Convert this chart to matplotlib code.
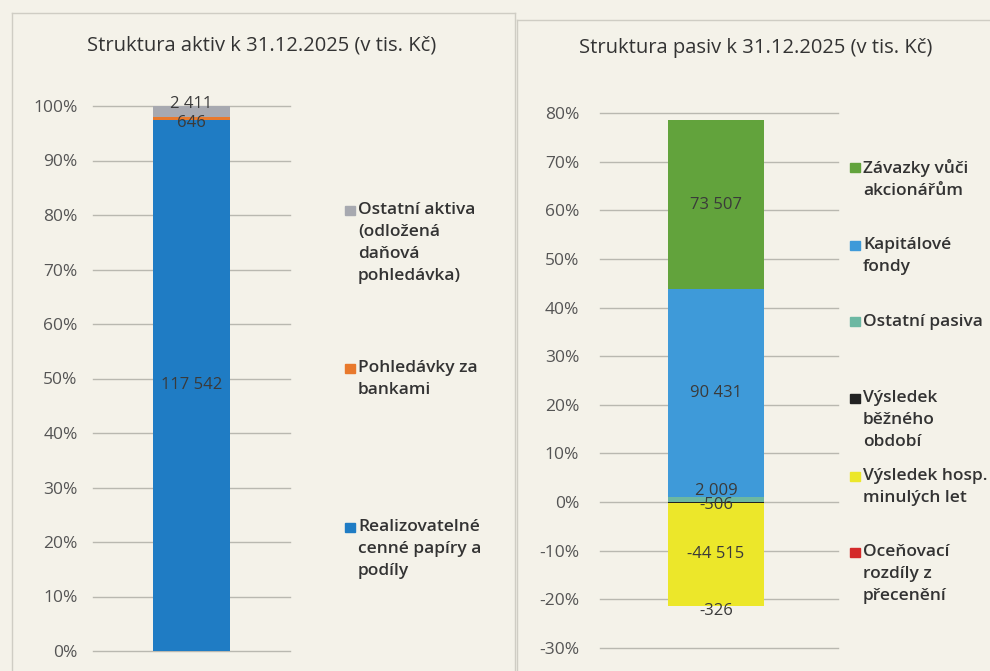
import matplotlib
matplotlib.use("Agg")
import matplotlib.pyplot as plt
import matplotlib.ticker as mticker
from matplotlib.patches import Rectangle
from matplotlib.lines import Line2D
import numpy as np

plt.rcParams['font.family'] = ['Open Sans', 'DejaVu Sans']

# ---------------- data ----------------
aktiva_title = "Struktura aktiv k 31.12.2025 (v tis. Kč)"
aktiva_labels = ["Realizovatelné\ncenné papíry a\npodíly",
                 "Pohledávky za\nbankami",
                 "Ostatní aktiva\n(odložená\ndaňová\npohledávka)"]
aktiva_values = [117542, 646, 2411]
aktiva_colors = ["#1f7cc4", "#e8792c", "#a7a9b0"]

pasiva_title = "Struktura pasiv k 31.12.2025 (v tis. Kč)"
pasiva_labels = ["Oceňovací\nrozdíly z\npřecenění",
                 "Výsledek hosp.\nminulých let",
                 "Výsledek\nběžného\nobdobí",
                 "Ostatní pasiva",
                 "Kapitálové\nfondy",
                 "Závazky vůči\nakcionářům"]
pasiva_values = [-326, -44515, -506, 2009, 90431, 73507]
pasiva_colors = ["#d42a2a", "#ece72a", "#222222", "#6cb8a2", "#3e9ad9", "#62a33c"]

aktiva_ticks = [0, 0.1, 0.2, 0.3, 0.4, 0.5, 0.6, 0.7, 0.8, 0.9, 1.0]
pasiva_ticks = [-0.3, -0.2, -0.1, 0, 0.1, 0.2, 0.3, 0.4, 0.5, 0.6, 0.7, 0.8]

# ---------------- layout ----------------
W, H = 990, 671
BG = "#f4f2e9"
fig = plt.figure(figsize=(W / 100, H / 100), dpi=100, facecolor=BG)


def fx(px):
    return px / W


def fy(py):
    return 1 - py / H


def fmt(v):
    s = f"{abs(v):,}".replace(",", " ")
    return ("-" if v < 0 else "") + s


# panel borders
border_c = "#cfcdc4"
fig.add_artist(Line2D([fx(12), fx(515)], [fy(13), fy(13)], color=border_c, lw=1))
fig.add_artist(Line2D([fx(12), fx(12)], [fy(13), fy(671)], color=border_c, lw=1))
fig.add_artist(Line2D([fx(515), fx(515)], [fy(13), fy(671)], color=border_c, lw=1))
fig.add_artist(Line2D([fx(517), fx(990)], [fy(20), fy(20)], color=border_c, lw=1))
fig.add_artist(Line2D([fx(517), fx(517)], [fy(20), fy(671)], color=border_c, lw=1))

grid_c = "#b9b8b0"
tick_c = "#555555"
text_c = "#3a3a3a"
LABEL_FS = 12
TICK_FS = 12.5
LEG_FS = 12.5


def style_axes(ax, ticks, pad):
    ax.set_facecolor("none")
    for s in ax.spines.values():
        s.set_visible(False)
    ax.set_yticks(ticks)
    ax.yaxis.set_major_formatter(mticker.FuncFormatter(lambda v, p: f"{round(v * 100):d}%"))
    ax.tick_params(axis='y', length=0, pad=pad, labelsize=TICK_FS, labelcolor=tick_c)
    ax.set_xticks([])
    ax.grid(axis='y', color=grid_c, lw=1)
    for gl in ax.yaxis.get_gridlines():
        gl.set_clip_on(False)
    ax.set_axisbelow(True)


def legend_item(x, y, lab, c):
    fig.add_artist(Rectangle((fx(x), fy(y + 4.5)), fx(10), 9 / H, color=c,
                             transform=fig.transFigure))
    fig.text(fx(x + 13), fy(y - 8), lab, ha='left', va='top', fontsize=LEG_FS,
             color="#333333", fontweight='semibold', linespacing=1.5)


# ---------------- Aktiva ----------------
axL = fig.add_axes([fx(93), fy(651), fx(290 - 93), (651 - 106) / H])
axL.set_xlim(-1.27, 1.27)
axL.set_ylim(0, 1.0)
style_axes(axL, aktiva_ticks, 11)

totA = sum(aktiva_values)
bottom = 0.0
label_offsets_a = {646: -0.009, 2411: 0.014}
for v, c in zip(aktiva_values, aktiva_colors):
    frac = v / totA
    axL.bar(0, frac, bottom=bottom, width=1.0, color=c, zorder=3)
    axL.text(0, bottom + frac / 2 + label_offsets_a.get(v, 0), fmt(v), ha='center', va='center',
             fontsize=LABEL_FS, color=text_c, zorder=5, clip_on=False)
    bottom += frac

fig.text(fx(262), fy(45), aktiva_title, ha='center', va='center', fontsize=14.5, color="#333333")

legA_x = 345
legA_y = [527, 368, 210]
for lab, c, y in zip(aktiva_labels, aktiva_colors, legA_y):
    legend_item(legA_x, y, lab, c)

# ---------------- Pasiva ----------------
axR = fig.add_axes([fx(600), fy(648), fx(838 - 600), (648 - 113) / H])
axR.set_xlim(-1.208, 1.271)
axR.set_ylim(-0.3, 0.8)
style_axes(axR, pasiva_ticks, 15)

totP = sum(abs(v) for v in pasiva_values)
pos, neg = 0.0, 0.0
segs = list(zip(pasiva_values, pasiva_colors))
neg_order = [s for s in reversed(segs) if s[0] < 0]   # closest to zero first
pos_order = [s for s in segs if s[0] >= 0]
label_offsets_p = {2009: 0.018, -506: -0.005, -326: -0.010}
for v, c in pos_order:
    frac = v / totP
    axR.bar(0, frac, bottom=pos, width=1.0, color=c, zorder=3)
    axR.text(0, pos + frac / 2 + label_offsets_p.get(v, 0), fmt(v), ha='center', va='center',
             fontsize=LABEL_FS, color=text_c, zorder=5, clip_on=False)
    pos += frac
for v, c in neg_order:
    frac = v / totP
    axR.bar(0, frac, bottom=neg, width=1.0, color=c, zorder=3)
    axR.text(0, neg + frac / 2 + label_offsets_p.get(v, 0), fmt(v), ha='center', va='center',
             fontsize=LABEL_FS, color=text_c, zorder=5, clip_on=False)
    neg += frac

fig.text(fx(756), fy(48), pasiva_title, ha='center', va='center', fontsize=14.5, color="#333333")

legP_x = 850
legP_y = [552, 476, 398, 322, 245, 167]
for lab, c, y in zip(pasiva_labels, pasiva_colors, legP_y):
    legend_item(legP_x, y, lab, c)

fig.savefig("out.png", dpi=100, facecolor=BG)
